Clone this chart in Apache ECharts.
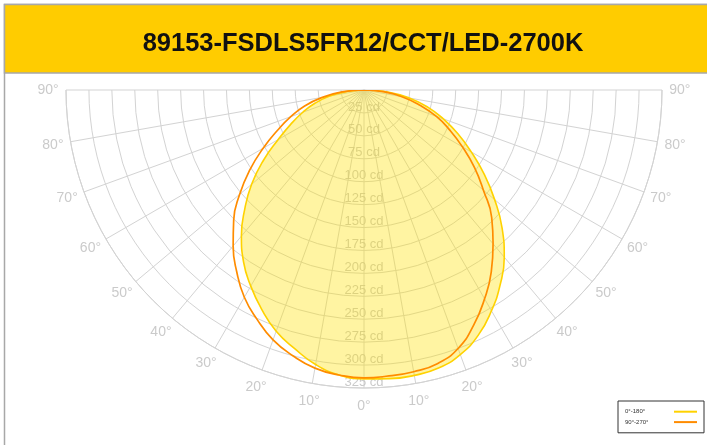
<!DOCTYPE html>
<html>
<head>
<meta charset="utf-8">
<script src="https://cdn.jsdelivr.net/npm/echarts@6/dist/echarts.min.js"></script>
<style>
html,body{margin:0;padding:0;background:#fff;}
#chart{width:707px;height:445px;}
</style>
</head>
<body>
<div id="chart"></div>
<script>
// ---- data ----
const titleText = '89153-FSDLS5FR12/CCT/LED-2700K';
const seriesNames = ['0°-180°', '90°-270°'];
// gamma angles (deg from nadir)
const gammaAngles = [0, 5, 10, 15, 20, 25, 30, 35, 40, 45, 50, 55, 60, 65, 70, 75, 80, 85, 90];
// intensities in cd
const c180 = [315, 312, 304, 292, 280, 264, 247, 229, 208, 184, 160, 134, 108, 88, 71, 55, 38, 19, 0]; // left half, yellow
const c0   = [315, 316, 316, 314, 307, 295, 278, 259, 238, 213, 186, 160, 135, 113, 92, 72, 50, 26, 0]; // right half, yellow
const c270 = [314, 312, 308, 300, 290, 276, 261, 242, 222, 201, 177, 152, 127, 104, 85, 67, 46, 24, 0]; // left half, orange
const c90  = [314, 313, 312, 309, 300, 283, 263, 242, 219, 197, 170, 147, 124, 103, 84, 62, 42, 21, 0]; // right half, orange
// tick labels
const radiusTicks = [25, 50, 75, 100, 125, 150, 175, 200, 225, 250, 275, 300, 325];
const angleTicks = [-90, -80, -70, -60, -50, -40, -30, -20, -10, 0, 10, 20, 30, 40, 50, 60, 70, 80, 90];

// build polar data: [radius, angle]; left side = positive angle, right side = negative
function buildCurve(leftVals, rightVals) {
  const out = [];
  for (let i = gammaAngles.length - 1; i >= 0; i--) out.push([leftVals[i], gammaAngles[i]]);
  for (let i = 1; i < gammaAngles.length; i++) out.push([rightVals[i], -gammaAngles[i]]);
  return out;
}

const gridColor = '#d3d3d3';
const labelColor = '#bdbdbd';
const angleLabelRadius = 344.5; // just outside outer ring (in cd units)

const chart = echarts.init(document.getElementById('chart'), null, {renderer: 'canvas'});
chart.setOption({
  animation: false,
  backgroundColor: '#ffffff',
  textStyle: {fontFamily: 'Liberation Sans'},
  graphic: [
    {type: 'rect', z: 0, shape: {x: 4.5, y: 4.5, width: 760, height: 500},
     style: {fill: '#ffffff', stroke: '#a8a8a8', lineWidth: 1.5}},
    {type: 'rect', z: 0, shape: {x: 4.5, y: 4.5, width: 760, height: 68.5},
     style: {fill: '#FFCC00', stroke: '#a8a8a8', lineWidth: 1.5}}
  ],
  title: {
    text: titleText,
    left: 363, top: 44, padding: 0,
    textAlign: 'center', textVerticalAlign: 'middle',
    textStyle: {fontSize: 25.5, fontWeight: 'bold', color: '#111111', fontFamily: 'Liberation Sans'}
  },
  legend: {
    data: seriesNames,
    orient: 'vertical',
    left: 618, top: 401,
    align: 'right',
    selectedMode: false,
    itemWidth: 23, itemHeight: 8, itemGap: 4,
    padding: [7.5, 6, 7.5, 7],
    borderColor: '#333333', borderWidth: 1, backgroundColor: '#ffffff',
    itemStyle: {color: 'rgba(0,0,0,0)', borderWidth: 0, opacity: 0},
    lineStyle: {width: 2},
    formatter: function (n) { return '{t|' + n + '}'; },
    textStyle: {fontSize: 6, color: '#333333',
      rich: {t: {width: 44, align: 'left', fontSize: 6, color: '#333333', fontFamily: 'Liberation Sans'}}}
  },
  polar: {center: [364, 90], radius: 298},
  angleAxis: {
    type: 'value', min: -90, max: 90, interval: 10,
    startAngle: 0, endAngle: -180, clockwise: true,
    axisLine: {show: true, lineStyle: {color: gridColor, width: 1}},
    axisTick: {show: false},
    axisLabel: {show: false},
    splitLine: {show: true, lineStyle: {color: gridColor, width: 1}}
  },
  radiusAxis: {
    type: 'value', min: 0, max: 325, interval: 25,
    axisLine: {show: false}, axisTick: {show: false}, axisLabel: {show: false},
    splitLine: {show: true, lineStyle: {color: gridColor, width: 1}}
  },
  series: [
    {
      name: 'cdLabels', type: 'scatter', coordinateSystem: 'polar', z: 1, clip: false,
      symbolSize: 0, itemStyle: {color: 'transparent'}, silent: true,
      data: radiusTicks.map(v => [v, 0]),
      label: {show: true, position: 'inside', offset: [0, -6], color: labelColor, fontSize: 13,
        fontFamily: 'Liberation Sans', formatter: p => p.value[0] + ' cd'}
    },
    {
      name: seriesNames[0], type: 'line', coordinateSystem: 'polar', z: 2, clip: false,
      symbol: 'none', smooth: true,
      itemStyle: {color: '#FFD200'},
      lineStyle: {color: '#FFD200', width: 1.6},
      areaStyle: {color: 'rgba(255, 224, 0, 0.52)'},
      data: buildCurve(c180, c0)
    },
    {
      name: seriesNames[1], type: 'line', coordinateSystem: 'polar', z: 3, clip: false,
      symbol: 'none', smooth: true,
      itemStyle: {color: '#FF8C00'},
      lineStyle: {color: '#FF8C00', width: 1.7},
      data: buildCurve(c270, c90)
    },
    {
      name: 'angleLabels', type: 'scatter', coordinateSystem: 'polar', z: 3, clip: false,
      symbolSize: 0, itemStyle: {color: 'transparent'}, silent: true,
      data: angleTicks.map(a => [angleLabelRadius, a]),
      label: {show: true, position: 'inside', color: labelColor, fontSize: 14,
        fontFamily: 'Liberation Sans', formatter: p => Math.abs(p.value[1]) + '\u00b0'}
    }
  ]
});
</script>
</body>
</html>
